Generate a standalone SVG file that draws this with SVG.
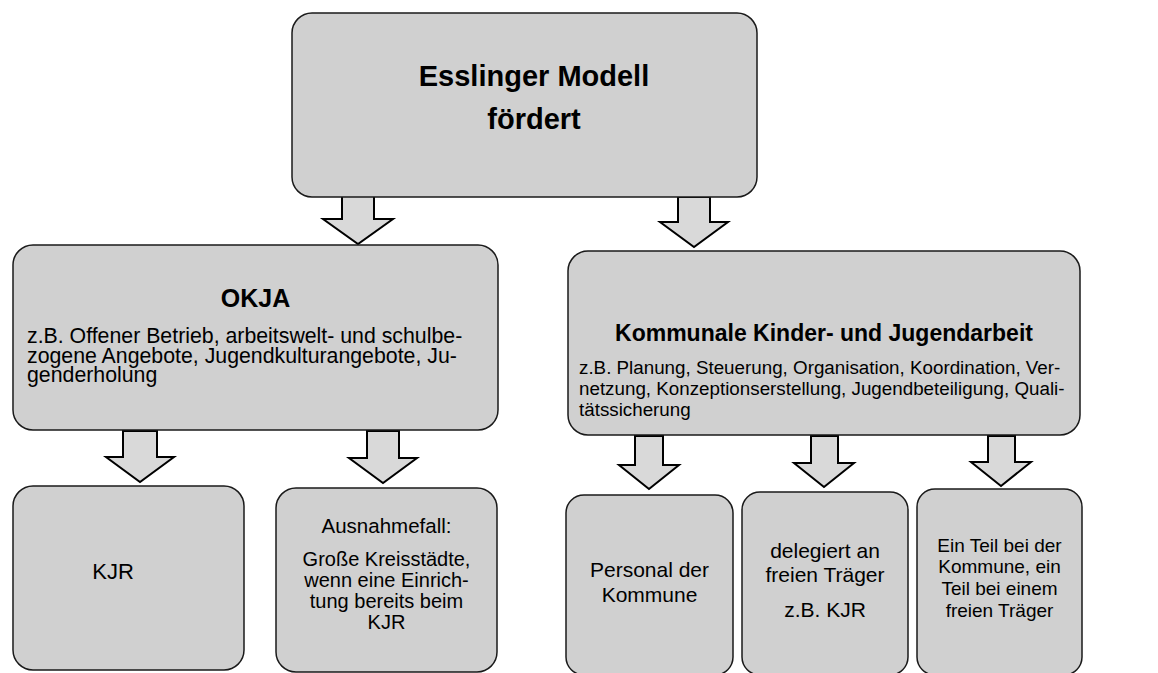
<svg xmlns="http://www.w3.org/2000/svg" width="1158" height="673" viewBox="0 0 1158 673">
<style>
.box{fill:#d0d0d0;stroke:#1a1a1a;stroke-width:1.5}
.arr{fill:#d9d9d9;stroke:#000;stroke-width:2;stroke-linejoin:miter}
text{font-family:"Liberation Sans",Arial,sans-serif;fill:#000}
.c{text-anchor:middle}
.b{font-weight:bold}
</style>
<rect width="1158" height="673" fill="#fff"/>
<g id="connectors">
<polygon class="arr" points="342,196 374,196 374,219 393,219 358,244 323,219 342,219"/>
<polygon class="arr" points="678,197 710,197 710,222 728,222 694,247 660,222 678,222"/>
<polygon class="arr" points="123,431 157,431 157,457 174,457 140,482 106,457 123,457"/>
<polygon class="arr" points="367,431 399,431 399,458 417,458 383,483 349,458 367,458"/>
<polygon class="arr" points="635,436 663,436 663,465 679,465 649,489 619,465 635,465"/>
<polygon class="arr" points="811,436 838,436 838,463 854,463 824,487 794,463 811,463"/>
<polygon class="arr" points="988,436 1015,436 1015,462 1031,462 1001,486 971,462 988,462"/>
</g>
<g id="top">
<rect class="box" x="292" y="13" width="465" height="184" rx="20"/>
<text class="c b" x="534" y="86" font-size="29">Esslinger Modell</text>
<text class="c b" x="534" y="129" font-size="29">fördert</text>
</g>
<g id="okja">
<rect class="box" x="13" y="245" width="485" height="185" rx="20"/>
<text class="c b" x="255.5" y="307" font-size="25">OKJA</text>
<text x="27" y="343" font-size="21.3">z.B. Offener Betrieb, arbeitswelt- und schulbe-</text>
<text x="27" y="362.5" font-size="21.3">zogene Angebote, Jugendkulturangebote, Ju-</text>
<text x="27" y="382" font-size="21.3">genderholung</text>
</g>
<g id="kommunal">
<rect class="box" x="568" y="251" width="512" height="184" rx="20"/>
<text class="c b" x="824" y="341" font-size="23">Kommunale Kinder- und Jugendarbeit</text>
<text x="579" y="374" font-size="18.8">z.B. Planung, Steuerung, Organisation, Koordination, Ver-</text>
<text x="579" y="395" font-size="18.8">netzung, Konzeptionserstellung, Jugendbeteiligung, Quali-</text>
<text x="579" y="416" font-size="18.8">tätssicherung</text>
</g>
<g id="kjr">
<rect class="box" x="13" y="486" width="231" height="184" rx="20"/>
<text class="c" x="113" y="579" font-size="22">KJR</text>
</g>
<g id="ausnahme">
<rect class="box" x="276" y="488" width="221" height="184" rx="20"/>
<text class="c" x="386.5" y="533" font-size="20.5">Ausnahmefall:</text>
<text class="c" x="386.5" y="566" font-size="20">Große Kreisstädte,</text>
<text class="c" x="386.5" y="587" font-size="20">wenn eine Einrich-</text>
<text class="c" x="386.5" y="608" font-size="20">tung bereits beim</text>
<text class="c" x="386.5" y="629" font-size="20">KJR</text>
</g>
<g id="personal">
<rect class="box" x="566" y="495" width="167" height="180" rx="18"/>
<text class="c" x="649.5" y="577" font-size="21">Personal der</text>
<text class="c" x="649.5" y="602" font-size="21">Kommune</text>
</g>
<g id="delegiert">
<rect class="box" x="742" y="492" width="166" height="183" rx="18"/>
<text class="c" x="825" y="558" font-size="21">delegiert an</text>
<text class="c" x="825" y="582" font-size="21">freien Träger</text>
<text class="c" x="825" y="617" font-size="21">z.B. KJR</text>
</g>
<g id="teil">
<rect class="box" x="917" y="489" width="165" height="186" rx="18"/>
<text class="c" x="999.5" y="552" font-size="19">Ein Teil bei der</text>
<text class="c" x="999.5" y="573" font-size="19">Kommune, ein</text>
<text class="c" x="999.5" y="595" font-size="19">Teil bei einem</text>
<text class="c" x="999.5" y="617" font-size="19">freien Träger</text>
</g>
</svg>
